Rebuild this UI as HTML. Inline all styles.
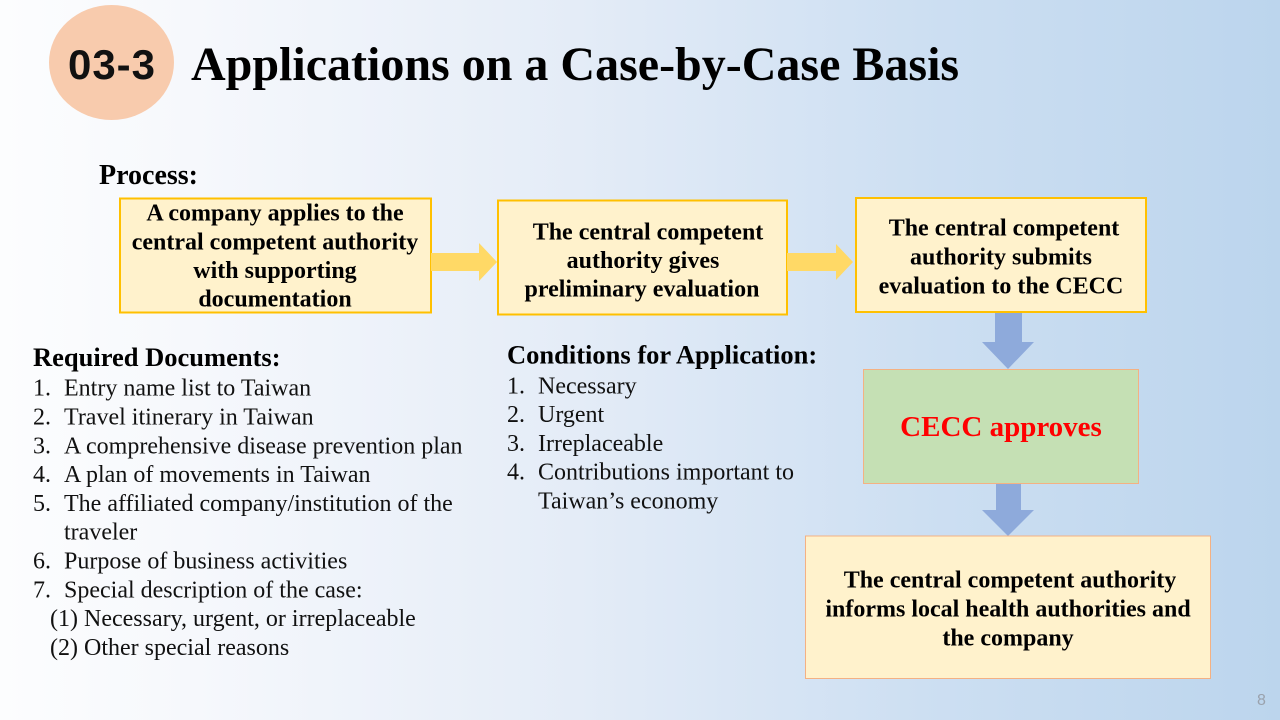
<!DOCTYPE html>
<html><head><meta charset="utf-8"><style>
html,body{margin:0;padding:0;width:1280px;height:720px;overflow:hidden;}
svg{display:block;}
.serif{font-family:"Liberation Serif",serif;}
</style></head><body>
<svg width="1280" height="720" viewBox="0 0 1280 720" xmlns="http://www.w3.org/2000/svg">
<defs>
<linearGradient id="bg" x1="0" y1="0" x2="1" y2="0">
<stop offset="0" stop-color="#fcfdfe"/>
<stop offset="0.15" stop-color="#f6f8fc"/>
<stop offset="0.45" stop-color="#e4ecf7"/>
<stop offset="0.72" stop-color="#cddff2"/>
<stop offset="1" stop-color="#bcd5ed"/>
</linearGradient>
</defs>
<rect width="1280" height="720" fill="url(#bg)"/>

<!-- title -->
<ellipse cx="111.5" cy="62.5" rx="62.5" ry="57.5" fill="#f8cbad"/>
<text x="112" y="79" text-anchor="middle" font-family="Liberation Sans, sans-serif" font-weight="bold" font-size="42" letter-spacing="1" fill="#111">03-3</text>
<text x="191" y="80" class="serif" font-weight="bold" font-size="48" fill="#000">Applications on a Case-by-Case Basis</text>

<text x="99" y="184" class="serif" font-weight="bold" font-size="28" fill="#000">Process:</text>

<!-- box 1 -->
<rect x="120" y="198.5" width="311" height="114" fill="#fff2cc" stroke="#ffc000" stroke-width="2"/>
<g class="serif" font-weight="bold" font-size="24" fill="#000" text-anchor="middle">
<text x="275" y="220.5">A company applies to the</text>
<text x="275" y="249.3">central competent authority</text>
<text x="275" y="278">with supporting</text>
<text x="275" y="306.6">documentation</text>
</g>

<!-- arrow 1 -->
<polygon points="431,253 479,253 479,243 497,262 479,281 479,271 431,271" fill="#ffd966"/>

<!-- box 2 -->
<rect x="498" y="200.5" width="289" height="114" fill="#fff2cc" stroke="#ffc000" stroke-width="2"/>
<g class="serif" font-weight="bold" font-size="24" fill="#000" text-anchor="middle">
<text x="648" y="239.3">The central competent</text>
<text x="643" y="268">authority gives</text>
<text x="642" y="296.7">preliminary evaluation</text>
</g>

<!-- arrow 2 -->
<polygon points="787,253 836,253 836,244 853,262 836,280 836,271 787,271" fill="#ffd966"/>

<!-- box 3 -->
<rect x="856" y="198" width="290" height="114" fill="#fff2cc" stroke="#ffc000" stroke-width="2"/>
<g class="serif" font-weight="bold" font-size="24" fill="#000" text-anchor="middle">
<text x="1004" y="235.5">The central competent</text>
<text x="1001" y="264.5">authority submits</text>
<text x="1001" y="293.3">evaluation to the CECC</text>
</g>

<!-- down arrow 1 -->
<polygon points="995,313 1022,313 1022,342 1034,342 1008,369 982,342 995,342" fill="#8eaadb"/>

<!-- green box -->
<rect x="863.5" y="369.5" width="275" height="114" fill="#c5e0b4" stroke="#f4b183" stroke-width="1"/>
<text x="1001" y="436" text-anchor="middle" class="serif" font-weight="bold" font-size="29" fill="#ff0000">CECC approves</text>

<!-- down arrow 2 -->
<polygon points="996,484 1021,484 1021,510 1034,510 1008,536 982,510 996,510" fill="#8eaadb"/>

<!-- bottom box -->
<rect x="805.5" y="536" width="405" height="142.5" fill="#fff2cc" stroke="#f4b183" stroke-width="1"/>
<g class="serif" font-weight="bold" font-size="24" fill="#000" text-anchor="middle">
<text x="1010" y="587.3">The central competent authority</text>
<text x="1008" y="616.6">informs local health authorities and</text>
<text x="1008" y="645.7">the company</text>
</g>

<!-- required documents -->
<text x="33" y="366" class="serif" font-weight="bold" font-size="26.5" fill="#000">Required Documents:</text>
<g class="serif" font-size="24" fill="#111">
<text x="33" y="395.7">1.</text><text x="64" y="395.7">Entry name list to Taiwan</text>
<text x="33" y="424.5">2.</text><text x="64" y="424.5">Travel itinerary in Taiwan</text>
<text x="33" y="453.3">3.</text><text x="64" y="453.3">A comprehensive disease prevention plan</text>
<text x="33" y="482.1">4.</text><text x="64" y="482.1">A plan of movements in Taiwan</text>
<text x="33" y="510.9">5.</text><text x="64" y="510.9">The affiliated company/institution of the</text>
<text x="64" y="539.7">traveler</text>
<text x="33" y="568.5">6.</text><text x="64" y="568.5">Purpose of business activities</text>
<text x="33" y="597.3">7.</text><text x="64" y="597.3">Special description of the case:</text>
<text x="50" y="626.1">(1) Necessary, urgent, or irreplaceable</text>
<text x="50" y="654.9">(2) Other special reasons</text>
</g>

<!-- conditions -->
<text x="507" y="363.3" class="serif" font-weight="bold" font-size="26.5" fill="#000">Conditions for Application:</text>
<g class="serif" font-size="24" fill="#111">
<text x="507" y="393.3">1.</text><text x="538" y="393.3">Necessary</text>
<text x="507" y="422.1">2.</text><text x="538" y="422.1">Urgent</text>
<text x="507" y="450.9">3.</text><text x="538" y="450.9">Irreplaceable</text>
<text x="507" y="479.7">4.</text><text x="538" y="479.7">Contributions important to</text>
<text x="538" y="508.5">Taiwan’s economy</text>
</g>

<text x="1257" y="705" font-family="Liberation Sans, sans-serif" font-size="16" fill="#9aa2ad">8</text>
</svg>
</body></html>
